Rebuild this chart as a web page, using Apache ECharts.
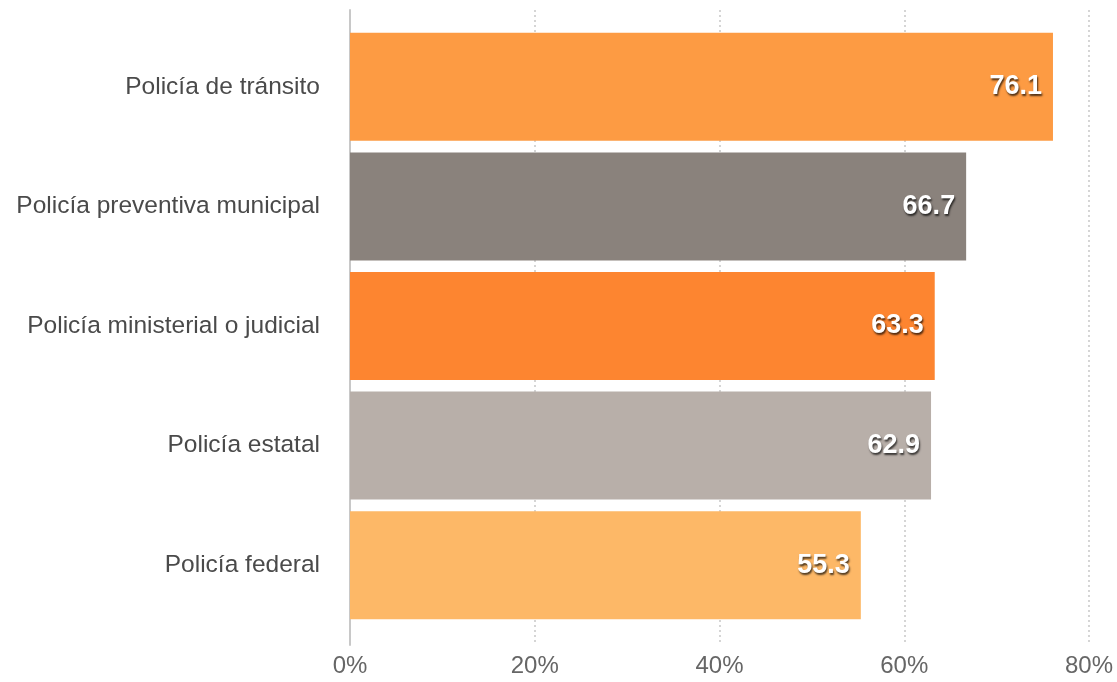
<!DOCTYPE html>
<html>
<head>
<meta charset="utf-8">
<script src="https://cdn.jsdelivr.net/npm/echarts@6/dist/echarts.min.js"></script>
<style>
html,body{margin:0;padding:0;background:#fff;}
#chart{width:1117px;height:682px;}
</style>
</head>
<body>
<div id="chart"></div>
<script>
const categories = ['Policía de tránsito', 'Policía preventiva municipal', 'Policía ministerial o judicial', 'Policía estatal', 'Policía federal'];
const values = [76.1, 66.7, 63.3, 62.9, 55.3];
const barColors = ['#FD9B43', '#8A827C', '#FD8530', '#B8AFA9', '#FDB867'];
const xTicks = [0, 20, 40, 60, 80];

const chart = echarts.init(document.getElementById('chart'), null, {renderer: 'canvas'});
const font = '"Liberation Sans", Arial, Helvetica, sans-serif';

chart.setOption({
  animation: false,
  grid: [
    {left: 350, right: 28, top: 27, bottom: 57},
    {left: 350, right: 28, top: 10, bottom: 37}
  ],
  xAxis: [
    {gridIndex: 0, type: 'value', min: xTicks[0], max: xTicks[xTicks.length - 1], interval: 20,
     axisLine: {show: false}, axisTick: {show: false}, axisLabel: {show: false}, splitLine: {show: false}},
    {gridIndex: 1, type: 'value', min: xTicks[0], max: xTicks[xTicks.length - 1], interval: 20,
     axisLine: {show: false}, axisTick: {show: false},
     axisLabel: {formatter: '{value}%', fontSize: 24, color: '#666', fontFamily: font, margin: 9},
     splitLine: {show: true, lineStyle: {color: '#c8c8c8', type: [2, 3], width: 1.5}}}
  ],
  yAxis: [
    {gridIndex: 0, type: 'category', data: categories, inverse: true,
     axisLine: {show: false}, axisTick: {show: false},
     axisLabel: {fontSize: 24.5, color: '#4a4a4a', fontFamily: font, margin: 30, padding: [4, 0, 0, 0]}},
    {gridIndex: 1, type: 'value', min: 0, max: 1,
     axisLine: {show: true, lineStyle: {color: '#c8c8c8', width: 2}},
     axisTick: {show: false}, axisLabel: {show: false}, splitLine: {show: false}}
  ],
  series: [{
    type: 'bar',
    xAxisIndex: 0, yAxisIndex: 0,
    data: values.map((v, i) => ({value: v, itemStyle: {color: barColors[i]}})),
    barWidth: 108,
    z: 3,
    label: {
      show: true, position: 'insideRight', distance: 11,
      color: '#fff', fontSize: 27, fontWeight: 'bold', fontFamily: font, padding: [4, 0, 0, 0],
      textShadowColor: 'rgba(0,0,0,0.7)', textShadowBlur: 2, textShadowOffsetX: 1, textShadowOffsetY: 2
    }
  }]
});
</script>
</body>
</html>
